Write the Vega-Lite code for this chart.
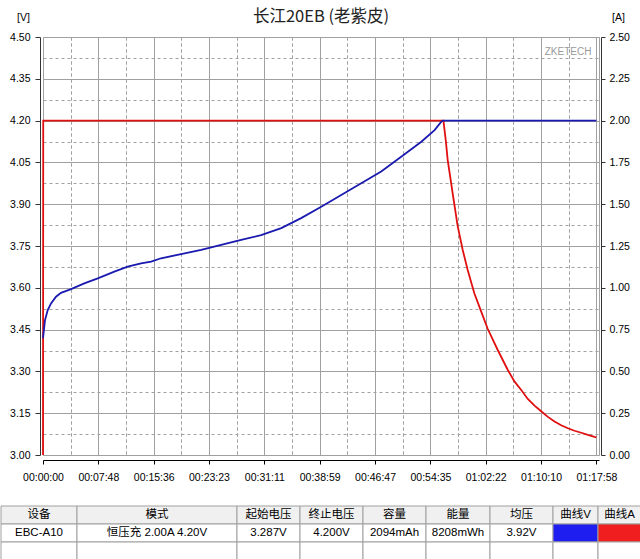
{
  "$schema": "https://vega.github.io/schema/vega-lite/v6.json",
  "padding": {"left": 0, "top": 8, "right": 0, "bottom": 0},
  "background": "white",
  "spacing": 22,
  "config": {
    "view": {"stroke": null},
    "font": "Liberation Sans, Noto Sans CJK SC",
    "axis": {"labelFont": "Liberation Sans", "labelFontSize": 10.5, "labelColor": "#000", "titleFont": "Liberation Sans", "titleFontSize": 10.5, "titleFontWeight": "normal", "titleColor": "#000"}
  },
  "datasets": {
    "current": [
      {"t": 0, "a": 0}, {"t": 2, "a": 2.0}, {"t": 3385, "a": 2.0}, {"t": 3405, "a": 1.88}, {"t": 3421, "a": 1.764},
      {"t": 3443, "a": 1.66}, {"t": 3463, "a": 1.565}, {"t": 3505, "a": 1.37}, {"t": 3548, "a": 1.226},
      {"t": 3590, "a": 1.106}, {"t": 3646, "a": 0.967}, {"t": 3702, "a": 0.862}, {"t": 3759, "a": 0.755},
      {"t": 3844, "a": 0.628}, {"t": 3928, "a": 0.51}, {"t": 3985, "a": 0.44}, {"t": 4041, "a": 0.39},
      {"t": 4098, "a": 0.335}, {"t": 4155, "a": 0.295}, {"t": 4211, "a": 0.262}, {"t": 4268, "a": 0.228},
      {"t": 4324, "a": 0.2}, {"t": 4380, "a": 0.178}, {"t": 4437, "a": 0.16}, {"t": 4493, "a": 0.145},
      {"t": 4550, "a": 0.133}, {"t": 4606, "a": 0.12}, {"t": 4662, "a": 0.108}, {"t": 4678, "a": 0.105}
    ],
    "voltage": [
      {"t": 0, "v": 3.419}, {"t": 17, "v": 3.484}, {"t": 40, "v": 3.52}, {"t": 68, "v": 3.544}, {"t": 110, "v": 3.568},
      {"t": 152, "v": 3.582}, {"t": 237, "v": 3.595}, {"t": 349, "v": 3.616}, {"t": 463, "v": 3.634},
      {"t": 603, "v": 3.658}, {"t": 716, "v": 3.676}, {"t": 829, "v": 3.688}, {"t": 914, "v": 3.694},
      {"t": 998, "v": 3.706}, {"t": 1167, "v": 3.721}, {"t": 1337, "v": 3.736}, {"t": 1506, "v": 3.754},
      {"t": 1675, "v": 3.772}, {"t": 1844, "v": 3.789}, {"t": 2014, "v": 3.814}, {"t": 2182, "v": 3.85},
      {"t": 2352, "v": 3.891}, {"t": 2521, "v": 3.933}, {"t": 2690, "v": 3.975}, {"t": 2859, "v": 4.017},
      {"t": 3028, "v": 4.07}, {"t": 3198, "v": 4.124}, {"t": 3310, "v": 4.166}, {"t": 3367, "v": 4.196},
      {"t": 3381, "v": 4.2}, {"t": 4678, "v": 4.2}
    ],
    "table": [
      {"col": 1, "row": "r1", "text": "设备"}, {"col": 1, "row": "r2", "text": "EBC-A10"}, {"col": 1, "row": "r3", "text": ""},
      {"col": 2, "row": "r1", "text": "模式"}, {"col": 2, "row": "r2", "text": "恒压充  2.00A  4.20V"}, {"col": 2, "row": "r3", "text": ""},
      {"col": 3, "row": "r1", "text": "起始电压"}, {"col": 3, "row": "r2", "text": "3.287V"}, {"col": 3, "row": "r3", "text": ""},
      {"col": 4, "row": "r1", "text": "终止电压"}, {"col": 4, "row": "r2", "text": "4.200V"}, {"col": 4, "row": "r3", "text": ""},
      {"col": 5, "row": "r1", "text": "容量"}, {"col": 5, "row": "r2", "text": "2094mAh"}, {"col": 5, "row": "r3", "text": ""},
      {"col": 6, "row": "r1", "text": "能量"}, {"col": 6, "row": "r2", "text": "8208mWh"}, {"col": 6, "row": "r3", "text": ""},
      {"col": 7, "row": "r1", "text": "均压"}, {"col": 7, "row": "r2", "text": "3.92V"}, {"col": 7, "row": "r3", "text": ""},
      {"col": 8, "row": "r1", "text": "曲线V"}, {"col": 8, "row": "r2", "text": ""}, {"col": 8, "row": "r3", "text": ""},
      {"col": 9, "row": "r1", "text": "曲线A"}, {"col": 9, "row": "r2", "text": ""}, {"col": 9, "row": "r3", "text": ""}
    ]
  },
  "vconcat": [
    {
      "spacing": 41,
      "bounds": "flush",
      "hconcat": [
        {
          "width": 1, "height": 418,
          "data": {"values": []},
          "mark": {"type": "point", "opacity": 0}
        },
        {
          "width": 556,
          "height": 418,
          "view": {"stroke": "#a0a0a0"},
          "title": {"text": "长江20EB (老紫皮)", "font": "Noto Sans CJK SC", "fontSize": 16.5, "fontWeight": "normal", "color": "#222", "anchor": "middle", "baseline": "bottom", "offset": 0, "dy": 29.5},
          "resolve": {"scale": {"y": "independent"}, "axis": {"x": "independent", "y": "independent"}},
          "layer": [
            {
              "data": {"name": "current"},
              "mark": {"type": "line", "color": "#e01010", "strokeWidth": 1.8},
              "encoding": {
                "x": {
                  "field": "t", "type": "quantitative",
                  "scale": {"domain": [0, 4700], "nice": false, "zero": false},
                  "axis": {
                    "orient": "bottom",
                    "values": [0, 468, 936, 1403, 1871, 2339, 2807, 3275, 3742, 4210, 4678],
                    "labelExpr": "utcFormat(datum.value * 1000, '%H:%M:%S')",
                    "grid": true, "gridColor": "#a0a0a0",
                    "title": null, "offset": 5, "tickSize": 4, "labelPadding": 8,
                    "domainColor": "#000", "tickColor": "#000",
                    "labelOverlap": false, "labelFlush": false
                  }
                },
                "y": {
                  "field": "a", "type": "quantitative",
                  "scale": {"domain": [0, 2.5], "nice": false, "zero": false},
                  "axis": {
                    "orient": "right", "values": [0, 0.25, 0.5, 0.75, 1, 1.25, 1.5, 1.75, 2, 2.25, 2.5], "format": ".2f",
                    "grid": false, "title": "[A]", "titleAngle": 0, "titleAlign": "center", "titleBaseline": "middle",
                    "titleX": 17, "titleY": -20, "offset": 2, "tickSize": 4, "labelPadding": 4,
                    "domainColor": "#333", "tickColor": "#333", "labelOverlap": false, "labelFlush": false
                  }
                }
              }
            },
            {
              "data": {"name": "voltage"},
              "mark": {"type": "line", "color": "#1a1ab0", "strokeWidth": 1.8},
              "encoding": {
                "x": {
                  "field": "t", "type": "quantitative",
                  "axis": {
                    "orient": "bottom",
                    "values": [234, 702, 1170, 1637, 2105, 2573, 3041, 3509, 3976, 4444],
                    "grid": true, "gridColor": "#a0a0a0", "gridDash": [3, 3],
                    "labels": false, "ticks": false, "domain": false, "title": null
                  }
                },
                "y": {
                  "field": "v", "type": "quantitative",
                  "scale": {"domain": [3, 4.5], "nice": false, "zero": false},
                  "axis": {
                    "orient": "left",
                    "values": [3, 3.15, 3.3, 3.45, 3.6, 3.75, 3.9, 4.05, 4.2, 4.35, 4.5],
                    "format": ".2f",
                    "grid": true, "gridColor": "#a0a0a0",
                    "title": "[V]", "titleAngle": 0, "titleAlign": "center", "titleBaseline": "middle",
                    "titleX": -17, "titleY": -20, "offset": 3, "tickSize": 5, "labelPadding": 5,
                    "domainColor": "#333", "tickColor": "#333", "labelOverlap": false, "labelFlush": false
                  }
                }
              }
            },
            {
              "data": {"values": [{}]},
              "mark": {"type": "text", "text": "ZKETECH", "fontSize": 10, "color": "#9a9a9a", "font": "Liberation Sans"},
              "encoding": {
                "x": {
                  "datum": 4438, "type": "quantitative",
                  "axis": {
                    "orient": "bottom",
                    "values": [234, 702, 1170, 1637, 2105, 2573, 3041, 3509, 3976, 4444],
                    "grid": true, "gridColor": "#a0a0a0", "gridDash": [3, 3],
                    "labels": false, "ticks": false, "domain": false, "title": null
                  }
                },
                "y": {
                  "datum": 4.446, "type": "quantitative",
                  "scale": {"domain": [3, 4.5], "nice": false, "zero": false},
                  "axis": {
                    "orient": "left",
                    "values": [3.075, 3.225, 3.375, 3.525, 3.675, 3.825, 3.975, 4.125, 4.275, 4.425],
                    "grid": true, "gridColor": "#a0a0a0", "gridDash": [3, 3],
                    "labels": false, "ticks": false, "domain": false, "title": null
                  }
                }
              }
            }
          ]
        }
      ]
    },
    {
      "spacing": 0,
      "bounds": "flush",
      "hconcat": [
        {"width": 76, "height": 54, "data": {"name": "table"}, "transform": [{"filter": "datum.col === 1"}],
         "encoding": {"y": {"field": "row", "type": "nominal", "axis": null, "scale": {"paddingInner": 0, "paddingOuter": 0}}},
         "layer": [
           {"mark": {"type": "rect", "stroke": "#a0a0a0", "strokeWidth": 1}, "encoding": {"fill": {"condition": {"test": "datum.row === 'r1'", "value": "#f0f0f0"}, "value": "#ffffff"}}},
           {"mark": {"type": "text", "fontSize": 11.5, "color": "#000"}, "encoding": {"text": {"field": "text"}}}
         ]},
        {"width": 160, "height": 54, "data": {"name": "table"}, "transform": [{"filter": "datum.col === 2"}],
         "encoding": {"y": {"field": "row", "type": "nominal", "axis": null, "scale": {"paddingInner": 0, "paddingOuter": 0}}},
         "layer": [
           {"mark": {"type": "rect", "stroke": "#a0a0a0", "strokeWidth": 1}, "encoding": {"fill": {"condition": {"test": "datum.row === 'r1'", "value": "#f0f0f0"}, "value": "#ffffff"}}},
           {"mark": {"type": "text", "fontSize": 11.5, "color": "#000"}, "encoding": {"text": {"field": "text"}}}
         ]},
        {"width": 63, "height": 54, "data": {"name": "table"}, "transform": [{"filter": "datum.col === 3"}],
         "encoding": {"y": {"field": "row", "type": "nominal", "axis": null, "scale": {"paddingInner": 0, "paddingOuter": 0}}},
         "layer": [
           {"mark": {"type": "rect", "stroke": "#a0a0a0", "strokeWidth": 1}, "encoding": {"fill": {"condition": {"test": "datum.row === 'r1'", "value": "#f0f0f0"}, "value": "#ffffff"}}},
           {"mark": {"type": "text", "fontSize": 11.5, "color": "#000"}, "encoding": {"text": {"field": "text"}}}
         ]},
        {"width": 63, "height": 54, "data": {"name": "table"}, "transform": [{"filter": "datum.col === 4"}],
         "encoding": {"y": {"field": "row", "type": "nominal", "axis": null, "scale": {"paddingInner": 0, "paddingOuter": 0}}},
         "layer": [
           {"mark": {"type": "rect", "stroke": "#a0a0a0", "strokeWidth": 1}, "encoding": {"fill": {"condition": {"test": "datum.row === 'r1'", "value": "#f0f0f0"}, "value": "#ffffff"}}},
           {"mark": {"type": "text", "fontSize": 11.5, "color": "#000"}, "encoding": {"text": {"field": "text"}}}
         ]},
        {"width": 63, "height": 54, "data": {"name": "table"}, "transform": [{"filter": "datum.col === 5"}],
         "encoding": {"y": {"field": "row", "type": "nominal", "axis": null, "scale": {"paddingInner": 0, "paddingOuter": 0}}},
         "layer": [
           {"mark": {"type": "rect", "stroke": "#a0a0a0", "strokeWidth": 1}, "encoding": {"fill": {"condition": {"test": "datum.row === 'r1'", "value": "#f0f0f0"}, "value": "#ffffff"}}},
           {"mark": {"type": "text", "fontSize": 11.5, "color": "#000"}, "encoding": {"text": {"field": "text"}}}
         ]},
        {"width": 64, "height": 54, "data": {"name": "table"}, "transform": [{"filter": "datum.col === 6"}],
         "encoding": {"y": {"field": "row", "type": "nominal", "axis": null, "scale": {"paddingInner": 0, "paddingOuter": 0}}},
         "layer": [
           {"mark": {"type": "rect", "stroke": "#a0a0a0", "strokeWidth": 1}, "encoding": {"fill": {"condition": {"test": "datum.row === 'r1'", "value": "#f0f0f0"}, "value": "#ffffff"}}},
           {"mark": {"type": "text", "fontSize": 11.5, "color": "#000"}, "encoding": {"text": {"field": "text"}}}
         ]},
        {"width": 63, "height": 54, "data": {"name": "table"}, "transform": [{"filter": "datum.col === 7"}],
         "encoding": {"y": {"field": "row", "type": "nominal", "axis": null, "scale": {"paddingInner": 0, "paddingOuter": 0}}},
         "layer": [
           {"mark": {"type": "rect", "stroke": "#a0a0a0", "strokeWidth": 1}, "encoding": {"fill": {"condition": {"test": "datum.row === 'r1'", "value": "#f0f0f0"}, "value": "#ffffff"}}},
           {"mark": {"type": "text", "fontSize": 11.5, "color": "#000"}, "encoding": {"text": {"field": "text"}}}
         ]},
        {"width": 45, "height": 54, "data": {"name": "table"}, "transform": [{"filter": "datum.col === 8"}],
         "encoding": {"y": {"field": "row", "type": "nominal", "axis": null, "scale": {"paddingInner": 0, "paddingOuter": 0}}},
         "layer": [
           {"mark": {"type": "rect", "stroke": "#a0a0a0", "strokeWidth": 1}, "encoding": {"fill": {"condition": [{"test": "datum.row === 'r1'", "value": "#f0f0f0"}, {"test": "datum.row === 'r2'", "value": "#1e1ef0"}], "value": "#ffffff"}}},
           {"mark": {"type": "text", "fontSize": 11.5, "color": "#000"}, "encoding": {"text": {"field": "text"}}}
         ]},
        {"width": 43, "height": 54, "data": {"name": "table"}, "transform": [{"filter": "datum.col === 9"}],
         "encoding": {"y": {"field": "row", "type": "nominal", "axis": null, "scale": {"paddingInner": 0, "paddingOuter": 0}}},
         "layer": [
           {"mark": {"type": "rect", "stroke": "#a0a0a0", "strokeWidth": 1}, "encoding": {"fill": {"condition": [{"test": "datum.row === 'r1'", "value": "#f0f0f0"}, {"test": "datum.row === 'r2'", "value": "#f01e1e"}], "value": "#ffffff"}}},
           {"mark": {"type": "text", "fontSize": 11.5, "color": "#000"}, "encoding": {"text": {"field": "text"}}}
         ]}
      ]
    }
  ]
}
